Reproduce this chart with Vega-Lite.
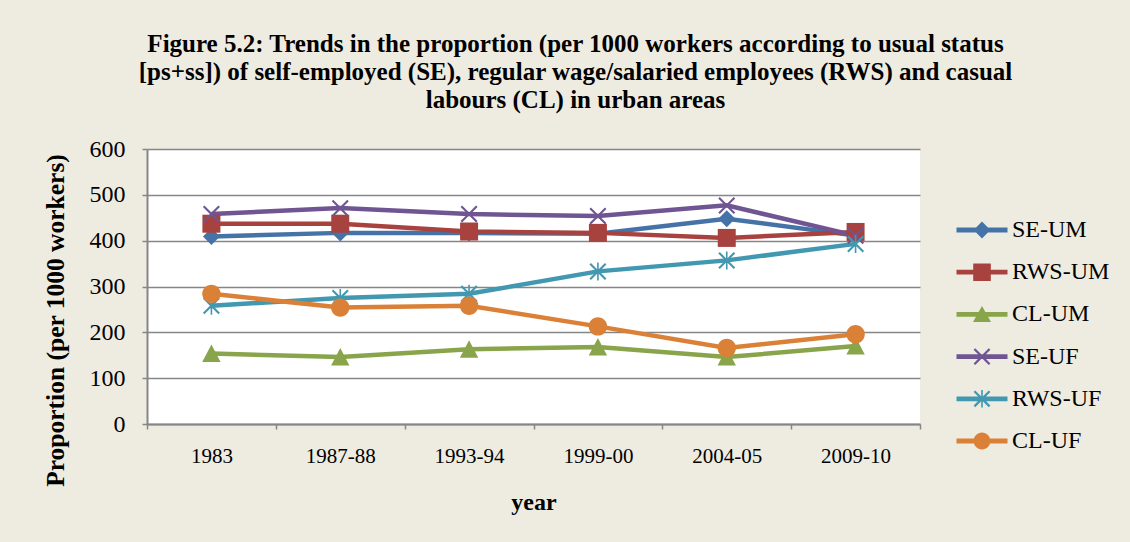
{
  "$schema": "https://vega.github.io/schema/vega-lite/v6.json",
  "width": 773,
  "height": 275,
  "autosize": {"type": "none"},
  "padding": {"left": 147, "top": 149, "right": 210, "bottom": 118},
  "background": "#EEECE1",
  "config": {
    "view": {"fill": "white", "stroke": null},
    "font": "Liberation Serif"
  },
  "title": {
    "text": [
      "Figure 5.2: Trends in the proportion (per 1000 workers according to usual status",
      "[ps+ss]) of self-employed (SE), regular wage/salaried employees (RWS) and casual",
      "labours (CL) in urban areas"
    ],
    "font": "Liberation Serif",
    "fontSize": 25,
    "fontWeight": "bold",
    "color": "black",
    "anchor": "middle",
    "dx": 42,
    "offset": 24,
    "lineHeight": 28
  },
  "data": {
    "values": [
      {"year": "1983", "series": "SE-UM", "value": 409},
      {"year": "1987-88", "series": "SE-UM", "value": 417},
      {"year": "1993-94", "series": "SE-UM", "value": 417},
      {"year": "1999-00", "series": "SE-UM", "value": 415},
      {"year": "2004-05", "series": "SE-UM", "value": 448},
      {"year": "2009-10", "series": "SE-UM", "value": 411},
      {"year": "1983", "series": "RWS-UM", "value": 437},
      {"year": "1987-88", "series": "RWS-UM", "value": 437},
      {"year": "1993-94", "series": "RWS-UM", "value": 420},
      {"year": "1999-00", "series": "RWS-UM", "value": 417},
      {"year": "2004-05", "series": "RWS-UM", "value": 406},
      {"year": "2009-10", "series": "RWS-UM", "value": 419},
      {"year": "1983", "series": "CL-UM", "value": 154},
      {"year": "1987-88", "series": "CL-UM", "value": 146},
      {"year": "1993-94", "series": "CL-UM", "value": 163},
      {"year": "1999-00", "series": "CL-UM", "value": 168},
      {"year": "2004-05", "series": "CL-UM", "value": 146},
      {"year": "2009-10", "series": "CL-UM", "value": 170},
      {"year": "1983", "series": "SE-UF", "value": 458},
      {"year": "1987-88", "series": "SE-UF", "value": 471},
      {"year": "1993-94", "series": "SE-UF", "value": 458},
      {"year": "1999-00", "series": "SE-UF", "value": 454},
      {"year": "2004-05", "series": "SE-UF", "value": 477},
      {"year": "2009-10", "series": "SE-UF", "value": 411},
      {"year": "1983", "series": "RWS-UF", "value": 258},
      {"year": "1987-88", "series": "RWS-UF", "value": 275},
      {"year": "1993-94", "series": "RWS-UF", "value": 284},
      {"year": "1999-00", "series": "RWS-UF", "value": 333},
      {"year": "2004-05", "series": "RWS-UF", "value": 357},
      {"year": "2009-10", "series": "RWS-UF", "value": 393},
      {"year": "1983", "series": "CL-UF", "value": 284},
      {"year": "1987-88", "series": "CL-UF", "value": 254},
      {"year": "1993-94", "series": "CL-UF", "value": 258},
      {"year": "1999-00", "series": "CL-UF", "value": 213},
      {"year": "2004-05", "series": "CL-UF", "value": 166},
      {"year": "2009-10", "series": "CL-UF", "value": 196}
    ]
  },
  "encoding": {
    "x": {
      "field": "year",
      "type": "ordinal",
      "sort": null,
      "bandPosition": 0.5,
      "scale": {"type": "band", "paddingInner": 0, "paddingOuter": 0},
      "axis": {
        "title": "year",
        "titleFont": "Liberation Serif",
        "titleFontSize": 24,
        "titleFontWeight": "bold",
        "titleColor": "black",
        "titlePadding": 24,
        "labelFont": "Liberation Serif",
        "labelFontSize": 21,
        "labelColor": "black",
        "labelAngle": 0,
        "labelPadding": 16,
        "tickBand": "extent",
        "tickSize": 5,
        "tickColor": "#868686",
        "tickWidth": 1.5,
        "domainColor": "#868686",
        "domainWidth": 2,
        "grid": false
      }
    },
    "y": {
      "field": "value",
      "type": "quantitative",
      "scale": {"domain": [0, 600], "nice": false},
      "axis": {
        "values": [0, 100, 200, 300, 400, 500, 600],
        "title": "Proportion (per 1000 workers)",
        "titleFont": "Liberation Serif",
        "titleFontSize": 25.5,
        "titleFontWeight": "bold",
        "titleColor": "black",
        "titleX": -79,
        "titleY": 171,
        "labelFont": "Liberation Serif",
        "labelFontSize": 24,
        "labelColor": "black",
        "labelPadding": 17,
        "tickSize": 5,
        "tickColor": "#868686",
        "tickWidth": 1.5,
        "domainColor": "#868686",
        "domainWidth": 2,
        "grid": true,
        "gridColor": "#868686",
        "gridWidth": 1.5
      }
    },
    "color": {
      "field": "series",
      "type": "nominal",
      "scale": {
        "domain": ["SE-UM", "RWS-UM", "CL-UM", "SE-UF", "RWS-UF", "CL-UF"],
        "range": ["#4573A7", "#A8423F", "#88A54B", "#6F5592", "#4198B0", "#DA8137"]
      },
      "legend": {
        "title": null,
        "orient": "none",
        "legendX": 815,
        "legendY": 61,
        "padding": 0,
        "labelFont": "Liberation Serif",
        "labelFontSize": 24,
        "labelColor": "black",
        "labelOffset": 10,
        "symbolSize": 1600,
        "rowPadding": 10.2,
        "encode": {
          "symbols": {
            "update": {
              "shape": {"signal": "datum.value === 'SE-UM' ? 'M-1.275,-0.12H1.275V0.12H-1.275Z M0,-0.42L0.42,0L0,0.42L-0.42,0Z' : datum.value === 'RWS-UM' ? 'M-1.275,-0.12H1.275V0.12H-1.275Z M-0.44,-0.44H0.44V0.44H-0.44Z' : datum.value === 'CL-UM' ? 'M-1.275,-0.12H1.275V0.12H-1.275Z M0,-0.42L0.45,0.38H-0.45Z' : datum.value === 'SE-UF' ? 'M-1.275,-0.12H1.275V0.12H-1.275Z M-0.42,-0.34L-0.34,-0.42L0,-0.08L0.34,-0.42L0.42,-0.34L0.08,0L0.42,0.34L0.34,0.42L0,0.08L-0.34,0.42L-0.42,0.34L-0.08,0Z' : datum.value === 'RWS-UF' ? 'M-1.275,-0.12H1.275V0.12H-1.275Z M-0.42,-0.34L-0.34,-0.42L0,-0.08L0.34,-0.42L0.42,-0.34L0.08,0L0.42,0.34L0.34,0.42L0,0.08L-0.34,0.42L-0.42,0.34L-0.08,0Z M-0.04,-0.44H0.04V0.44H-0.04Z' : 'M-1.275,-0.12H1.275V0.12H-1.275Z M0.42,0A0.42,0.42 0 1,1 -0.42,0A0.42,0.42 0 1,1 0.42,0Z'"},
              "fill": {"scale": "color", "field": "value"},
              "fillOpacity": {"value": 1},
              "opacity": {"value": 1},
              "strokeWidth": {"value": 0},
              "size": {"value": 1600}
            }
          }
        }
      }
    }
  },
  "layer": [
    {
      "mark": {"type": "line", "strokeWidth": 4.5}
    },
    {
      "mark": {"type": "point", "filled": true, "opacity": 1, "size": 400, "strokeWidth": 0},
      "encoding": {
        "shape": {
          "field": "series",
          "type": "nominal",
          "legend": null,
          "scale": {
            "domain": ["CL-UF", "RWS-UF", "SE-UF", "CL-UM", "RWS-UM", "SE-UM"],
            "range": [
              "M0.92,0A0.92,0.92 0 1,1 -0.92,0A0.92,0.92 0 1,1 0.92,0Z",
              "M-0.85,-0.7L-0.7,-0.85L0,-0.15L0.7,-0.85L0.85,-0.7L0.15,0L0.85,0.7L0.7,0.85L0,0.15L-0.7,0.85L-0.85,0.7L-0.15,0Z M-0.08,-0.9H0.08V0.9H-0.08Z",
              "M-0.85,-0.7L-0.7,-0.85L0,-0.15L0.7,-0.85L0.85,-0.7L0.15,0L0.85,0.7L0.7,0.85L0,0.15L-0.7,0.85L-0.85,0.7L-0.15,0Z",
              "M0,-0.9L0.92,0.85H-0.92Z",
              "M-0.9,-0.9H0.9V0.9H-0.9Z",
              "M0,-0.85L0.85,0L0,0.85L-0.85,0Z"
            ]
          }
        }
      }
    }
  ]
}
